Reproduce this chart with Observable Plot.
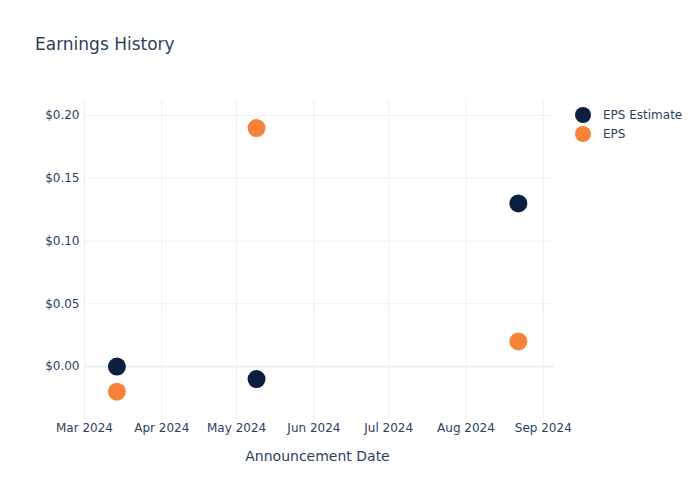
<!DOCTYPE html>
<html>
<head>
<meta charset="utf-8">
<script src="https://cdn.jsdelivr.net/npm/d3@7"></script>
<script src="https://cdn.jsdelivr.net/npm/@observablehq/plot@0.6"></script>
<style>
  body { margin: 0; background: #fff; }
  #wrap { position: relative; width: 700px; height: 500px; font-family: "DejaVu Sans", sans-serif; color: #2a3f5f; }
  #title { position: absolute; left: 35px; top: 32px; font-size: 17px; line-height: 24px; white-space: nowrap; }
  #legend { position: absolute; left: 575px; top: 105px; font-size: 12px; }
  .item { display: flex; align-items: center; height: 19px; }
  .sw { width: 16px; height: 16px; border-radius: 50%; margin-right: 12px; }
  #chart { position: absolute; left: 0; top: 0; }
</style>
</head>
<body>
<div id="wrap">
  <div id="chart"></div>
  <div id="title">Earnings History</div>
  <div id="legend"></div>
</div>
<script>
const dates = ["2024-03-14", "2024-05-09", "2024-08-22"];
const epsEstimate = [0.00, -0.01, 0.13];
const eps = [-0.02, 0.19, 0.02];
const seriesNames = ["EPS Estimate", "EPS"];
const seriesColors = ["#0c1f3f", "#f7833a"];
const yTicks = [0, 0.05, 0.10, 0.15, 0.20];

const parse = d3.utcParse("%Y-%m-%d");
const rows = [];
dates.forEach((d, i) => {
  rows.push({date: parse(d), value: epsEstimate[i], series: seriesNames[0]});
  rows.push({date: parse(d), value: eps[i], series: seriesNames[1]});
});

const xTicks = d3.utcMonth.range(new Date(Date.UTC(2024, 2, 1)), new Date(Date.UTC(2024, 8, 2)));

const plot = Plot.plot({
  width: 700,
  height: 500,
  marginLeft: 84,
  marginRight: 146,
  marginTop: 100,
  marginBottom: 80,
  style: {fontFamily: "DejaVu Sans, sans-serif", fontSize: "12px", color: "#2a3f5f", background: "transparent"},
  x: {type: "utc", domain: [new Date(Date.UTC(2024, 2, 1)), new Date(Date.UTC(2024, 8, 5, 12))], ticks: xTicks, tickFormat: d3.utcFormat("%b %Y"), label: null},
  y: {domain: [-0.043, 0.212], ticks: yTicks, tickFormat: d => "$" + d.toFixed(2), label: null},
  color: {domain: seriesNames, range: seriesColors},
  marks: [
    Plot.gridX(xTicks, {stroke: "#ebf0f8", strokeOpacity: 1, strokeWidth: 1}),
    Plot.gridY(yTicks.filter(t => t !== 0), {stroke: "#ebf0f8", strokeOpacity: 1, strokeWidth: 1}),
    Plot.ruleY([0], {stroke: "#ebf0f8", strokeWidth: 2}),
    Plot.axisX({ticks: xTicks, tickFormat: d3.utcFormat("%b %Y"), tickSize: 0, tickPadding: 3, fill: "#2a3f5f", fontSize: 12, label: null}),
    Plot.axisY({ticks: yTicks, tickFormat: d => "$" + d.toFixed(2), tickSize: 0, tickPadding: 5, fill: "#2a3f5f", fontSize: 12, label: null}),
    Plot.text(["Announcement Date"], {frameAnchor: "bottom", dx: -2, dy: 40, fill: "#2a3f5f", fontSize: 14}),
    Plot.dot(rows, {x: "date", y: "value", fill: "series", r: 9, stroke: "none"})
  ]
});
document.getElementById("chart").appendChild(plot);

const legend = document.getElementById("legend");
seriesNames.forEach((n, i) => {
  const it = document.createElement("div");
  it.className = "item";
  it.innerHTML = `<span class="sw" style="background:${seriesColors[i]}"></span><span>${n}</span>`;
  legend.appendChild(it);
});
</script>
</body>
</html>
